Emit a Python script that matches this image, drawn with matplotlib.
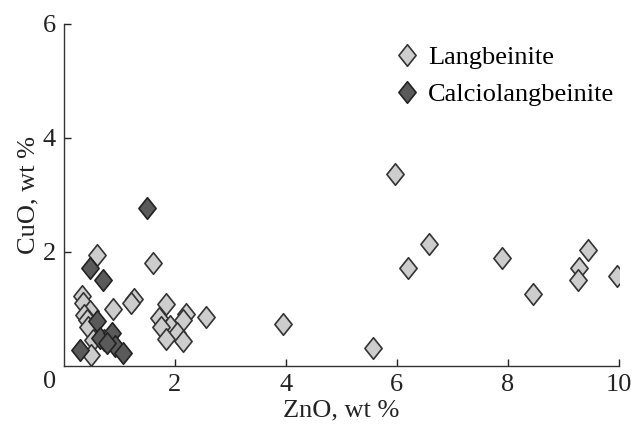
import matplotlib
matplotlib.use("Agg")
import matplotlib.pyplot as plt
from matplotlib.path import Path

plt.rcParams['font.family'] = ['Liberation Serif', 'DejaVu Serif']

# Langbeinite
lang_zno = [5.96, 6.58, 6.20, 7.89, 8.46, 9.44, 9.29, 9.27, 9.97, 3.94, 5.57,
            0.59, 1.61, 1.26, 1.20, 0.89, 1.84, 2.20, 2.56, 1.72, 2.14, 1.91,
            1.74, 2.04, 1.84, 2.15, 0.32, 0.35, 0.46, 0.36, 0.41, 0.44, 0.53, 0.48,
            0.72]
lang_cuo = [3.36, 2.13, 1.71, 1.89, 1.26, 2.04, 1.72, 1.51, 1.57, 0.74, 0.32,
            1.95, 1.81, 1.17, 1.10, 0.99, 1.08, 0.91, 0.86, 0.84, 0.80, 0.70,
            0.68, 0.58, 0.47, 0.44, 1.23, 1.10, 0.97, 0.89, 0.81, 0.68, 0.46, 0.19,
            0.45]

# Calciolangbeinite
calc_zno = [1.50, 0.46, 0.71, 0.59, 0.65, 0.86, 0.29, 0.92, 1.06, 0.77]
calc_cuo = [2.77, 1.71, 1.51, 0.78, 0.49, 0.57, 0.28, 0.35, 0.22, 0.40]

xticks = [2, 4, 6, 8, 10]
yticks = [2, 4, 6]

diamond = Path([(0, 1), (0.8, 0), (0, -1), (-0.8, 0), (0, 1)],
               [Path.MOVETO, Path.LINETO, Path.LINETO, Path.LINETO, Path.CLOSEPOLY])

fig = plt.figure(figsize=(6.34, 4.26), dpi=100)
ax = fig.add_axes([0.101, 0.141, 0.875, 0.803])

ax.plot(lang_zno, lang_cuo, linestyle='none', marker=diamond, markersize=15.5,
        markerfacecolor='#cdcdcd', markeredgecolor='#333333', markeredgewidth=1.2,
        label='Langbeinite')
ax.plot(calc_zno, calc_cuo, linestyle='none', marker=diamond, markersize=15.5,
        markerfacecolor='#5a5a5a', markeredgecolor='#222222', markeredgewidth=1.2,
        label='Calciolangbeinite')

ax.set_xlim(0, 10)
ax.set_ylim(0, 6)
ax.set_xticks(xticks)
ax.set_yticks(yticks)
ax.tick_params(direction='in', length=5, width=1, labelsize=19, pad=6, colors='#222222')
for s in ['top', 'right']:
    ax.spines[s].set_visible(False)
for s in ['left', 'bottom']:
    ax.spines[s].set_linewidth(1.0)
    ax.spines[s].set_color('#333333')

ax.text(-0.015, -0.015, '0', transform=ax.transAxes, fontsize=19, ha='right', va='top',
        color='#222222')

ax.set_xlabel('ZnO, wt %', fontsize=19, labelpad=2, color='#222222')
ax.set_ylabel('CuO, wt %', fontsize=19, labelpad=2, color='#222222')

ax.legend(loc='upper left', bbox_to_anchor=(0.57, 0.968), frameon=False, fontsize=19,
          handletextpad=0.2, labelspacing=0.52, borderaxespad=0.0, handlelength=1.2,
          numpoints=1)

fig.savefig('out.png', dpi=100)
